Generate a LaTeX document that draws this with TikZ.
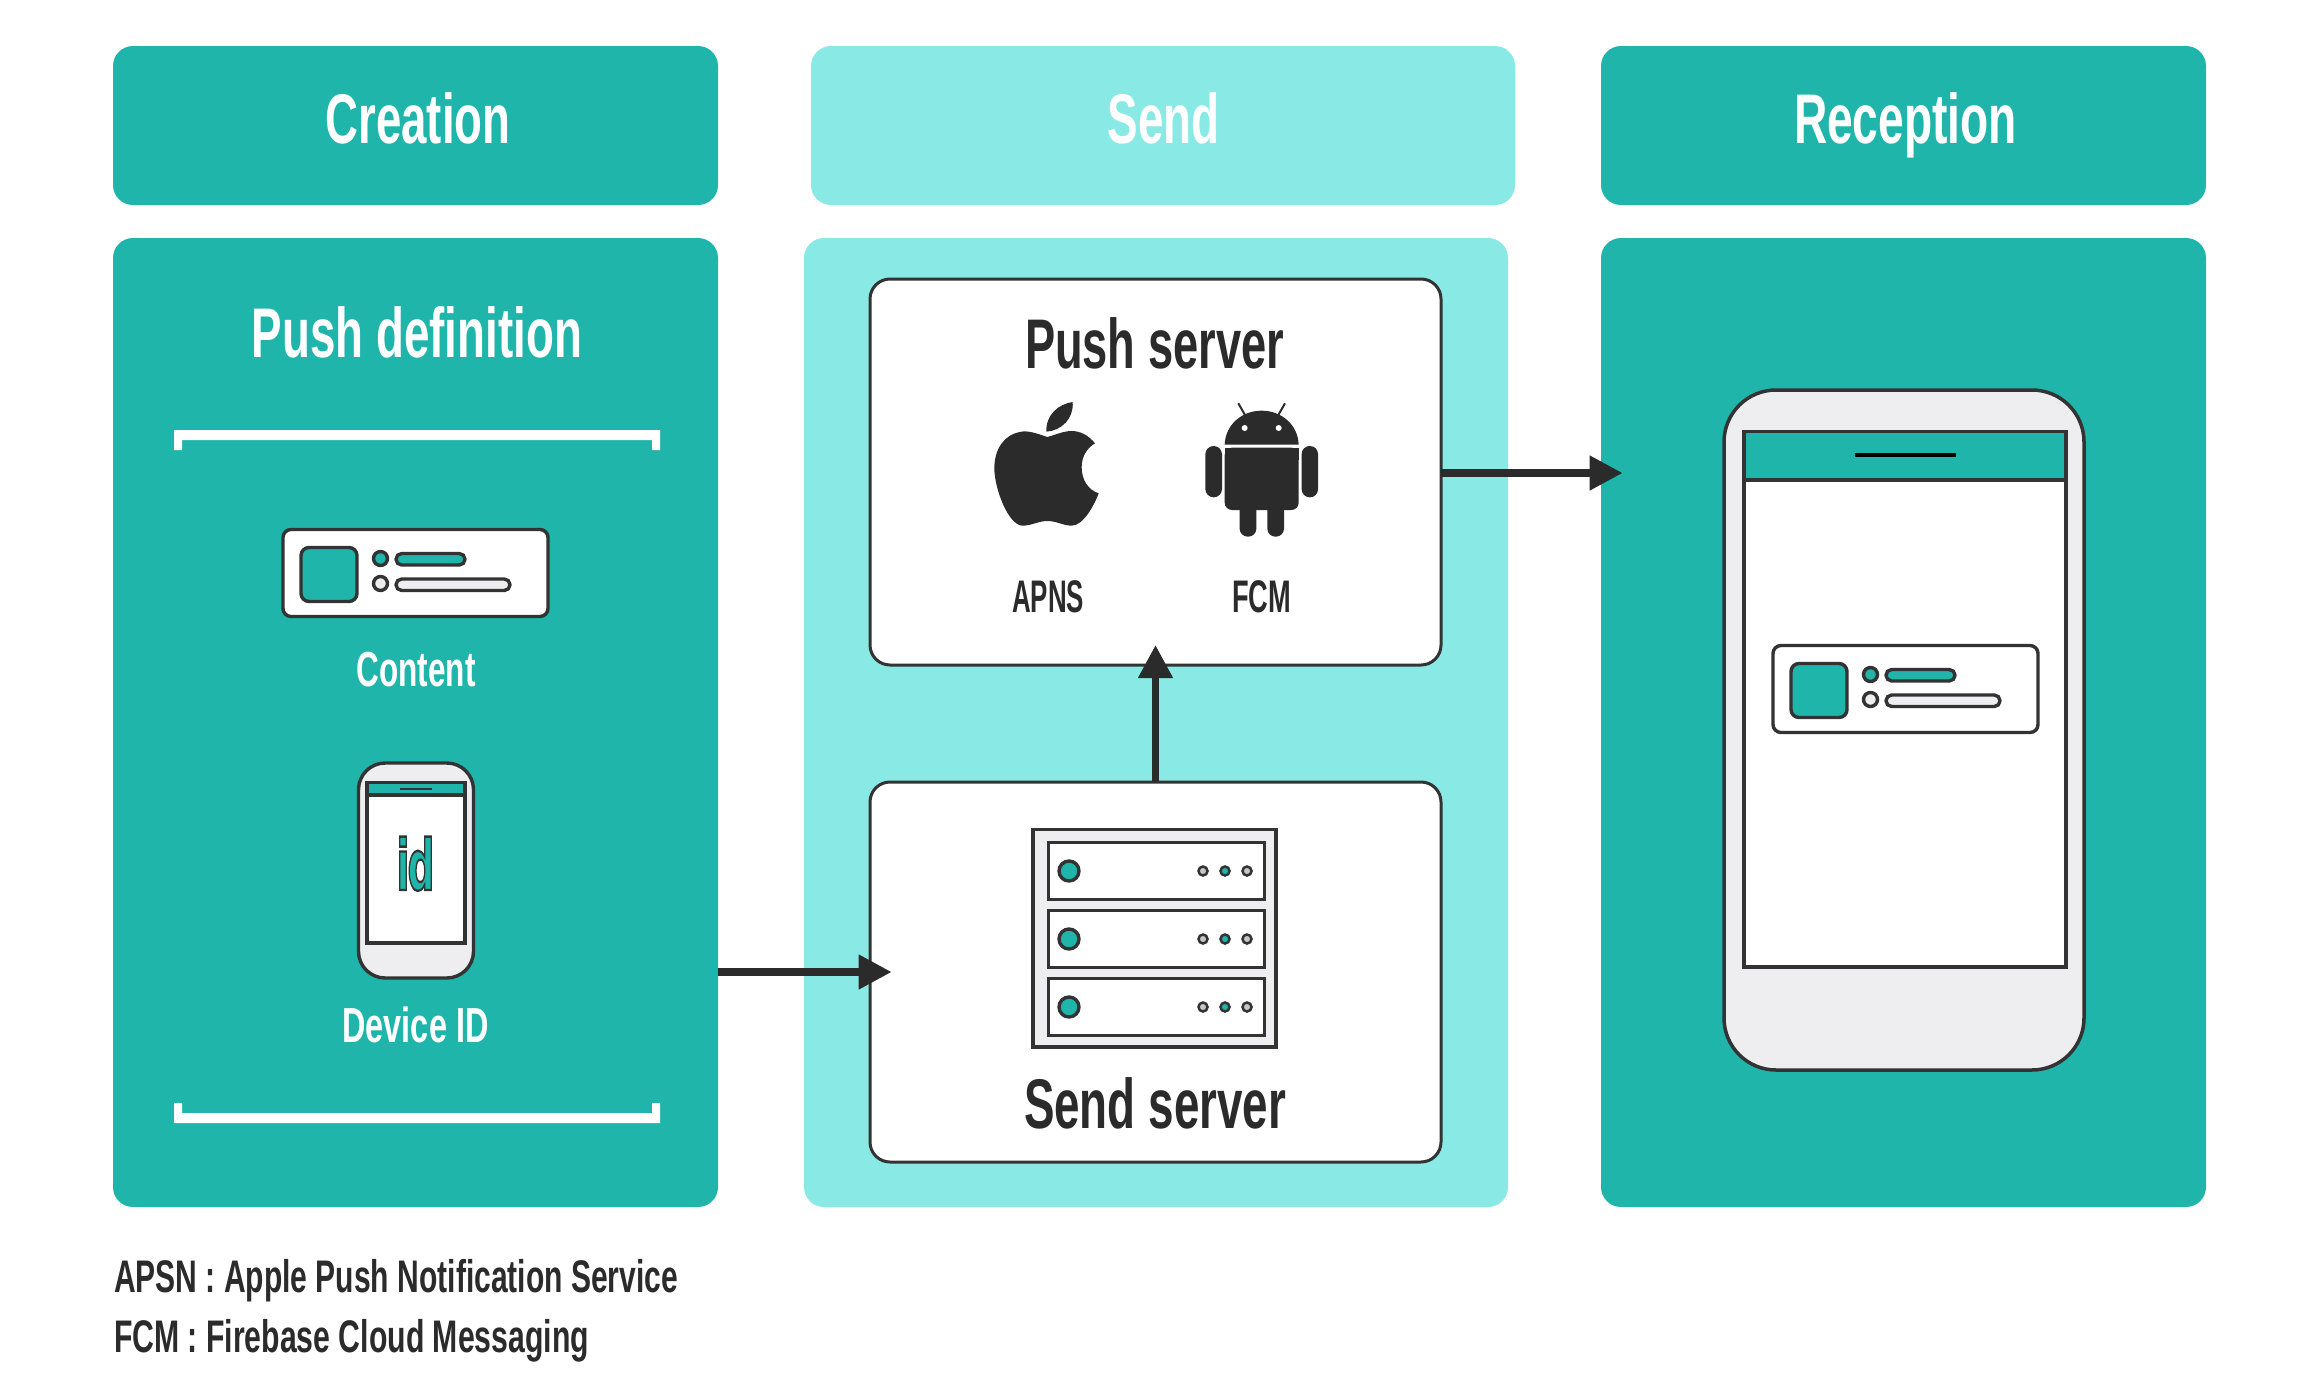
\documentclass[tikz,border=0pt]{standalone}
\usepackage{fontspec}
\usepackage{graphicx}
\usetikzlibrary{arrows.meta}
\setmainfont{Liberation Sans}
\newfontfamily\idfont[BoldFont={DejaVu Sans Bold}]{DejaVu Sans}
\definecolor{teal1}{HTML}{1FB5AB}
\definecolor{light1}{HTML}{89E9E4}
\definecolor{gray1}{HTML}{EEEEF0}
\definecolor{dark1}{HTML}{333333}
\definecolor{ink1}{HTML}{2B2B2B}
\newlength{\upx}\setlength{\upx}{0.03cm}
\tikzset{
  panel/.style={inner sep=0,outer sep=0,rounded corners=0.6cm},
  tealp/.style={panel,fill=teal1},
  lightp/.style={panel,fill=light1},
  whitebox/.style={panel,fill=white,draw=dark1,line width=3\upx},
  arrowline/.style={draw=ink1,line width=7.5\upx,-{Triangle[length=0.99cm,width=0.99cm]},shorten >=-0.6cm},
  arrowlineh/.style={arrowline,shorten >=-0.65cm},
  outl/.style={draw=dark1,line width=3.4\upx},
  rectbox/.style={inner sep=0,outer sep=0,outl},
  lab/.style={inner sep=0,outer sep=0,anchor=base,font=\bfseries},
  labl/.style={lab,anchor=base west},
}
\newcommand{\bx}[6]{\node[#6,minimum width={(#4-#2)*0.03cm},minimum height={(#5-#3)*0.03cm}] (#1) at ({(#2+#4)/2},{(#3+#5)/2}) {};}
\newcommand{\fitw}[3]{\resizebox{#1\upx}{\height}{\fontsize{#2}{#2}\selectfont #3}}
\newcommand{\notifcard}[2]{%
  \begin{scope}[shift={(#1,#2)}]
    \draw[outl,fill=white,rounded corners=0.24cm] (283,529.5) rectangle (548,616.5);
    \draw[outl,fill=teal1,rounded corners=0.24cm] (301,547.5) rectangle (357,601.5);
    \draw[outl,fill=teal1] (380.5,558.5) circle (7);
    \draw[outl,fill=gray1] (380.5,583.5) circle (7);
    \draw[outl,fill=teal1,rounded corners=0.17cm] (396,553.5) rectangle (465,565);
    \draw[outl,fill=gray1,rounded corners=0.17cm] (396,579) rectangle (510,590.5);
  \end{scope}}
\newcommand{\serverunit}[2]{%
  \draw[line width=3\upx,draw=dark1,fill=white] (1048,#1) rectangle (1264,#1+57);
  \draw[outl,fill=teal1] (1069,#2) circle (10);
  \draw[line width=2.5\upx,draw=dark1,fill=gray!45] (1203,#2) circle (4.5);
  \draw[line width=2.5\upx,draw=dark1,fill=teal1] (1225,#2) circle (4.5);
  \draw[line width=2.5\upx,draw=dark1,fill=gray!45] (1247,#2) circle (4.5);}
\begin{document}
\begin{tikzpicture}[x=0.03cm,y=-0.03cm]
\useasboundingbox (0,0) rectangle (2317,1400);
\fill[white] (0,0) rectangle (2317,1400);
% headers
\bx{hcreate}{113}{46}{718}{205}{tealp}
\bx{hsend}{811}{46}{1515}{205}{lightp}
\bx{hrecv}{1601}{46}{2206}{205}{tealp}
% panels
\bx{pcreate}{113}{238}{718}{1207}{tealp}
\bx{psend}{804}{238}{1508}{1207}{lightp}
\bx{precv}{1601}{238}{2206}{1207}{tealp}
% header labels
\node[lab,text=white] (tcreate) at (418,143) {\fitw{185}{60pt}{Creation}};
\node[lab,text=white] (tsend) at (1163.5,143) {\fitw{112}{60pt}{Send}};
\node[lab,text=white] (trecv) at (1905.5,143) {\fitw{223}{60pt}{Reception}};
\node[lab,text=white] (tpush) at (417,357) {\fitw{330}{60pt}{Push definition}};
% brackets
\fill[white] (174,430) -- (660,430) -- (660,450) -- (652,450) -- (652,440) -- (182,440) -- (182,450) -- (174,450) -- cycle;
\fill[white] (174,1123) -- (660,1123) -- (660,1103) -- (652,1103) -- (652,1113) -- (182,1113) -- (182,1103) -- (174,1103) -- cycle;
% content card
\notifcard{0}{0}
\node[lab,text=white] (tcontent) at (416,686) {\fitw{119}{42pt}{Content}};
% small phone
\draw[outl,fill=gray1,rounded corners=0.8cm] (358.5,763) rectangle (473.5,978);
\draw[outl,fill=white] (367,782.5) rectangle (465,943);
\draw[outl,fill=teal1] (367,782.5) rectangle (465,795);
\draw[draw=dark1,line width=1.5\upx] (400,789) -- (432,789);
\node[lab,text=teal1] (tid) at (415.5,890) {\special{pdf:literal direct 2 Tr 2 w 0.2 0.2 0.2 RG}\fitw{38}{60pt}{\idfont i\kern-0.05em d}\special{pdf:literal direct 0 Tr}};
\node[lab,text=white] (tdevice) at (415.5,1042) {\fitw{146}{42pt}{Device ID}};
% push server
\bx{pushsrv}{870}{279}{1441}{665}{whitebox}
\node[lab,text=ink1] (tpushsrv) at (1154.5,368) {\fitw{259}{60pt}{Push server}};
% apple
\begin{scope}[shift={(940,380)},xscale=1/3,yscale=1/3]
  \fill[ink1] (322,171) .. controls (290,160) and (262,150) .. (240,156) .. controls (190,165) and (163,210) .. (163,265) .. controls (163,325) and (205,437) .. (248,437) .. controls (275,437) and (295,423) .. (322,423) .. controls (350,423) and (370,437) .. (395,437) .. controls (430,437) and (463,375) .. (476,340) .. controls (445,330) and (425,300) .. (425,262) .. controls (425,230) and (440,205) .. (465,190) .. controls (445,165) and (420,153) .. (395,153) .. controls (370,153) and (345,165) .. (322,171) -- cycle;
  \fill[ink1] (319,155) .. controls (317,105) and (355,72) .. (398,66) .. controls (402,115) and (365,152) .. (319,155) -- cycle;
\end{scope}
% android
\begin{scope}[shift={(940,380)},xscale=1/3,yscale=1/3]
  \draw[ink1,line width=2\upx] (895,70) -- (915,105);
  \draw[ink1,line width=2\upx] (1035,70) -- (1015,105);
  \fill[ink1] (854,194) .. controls (856,135) and (905,92) .. (965,92) .. controls (1025,92) and (1074,135) .. (1076,194) -- cycle;
  \fill[white] (914,144) circle (9);
  \fill[white] (1016,144) circle (9);
  \fill[ink1,rounded corners=0.22cm] (854,203) -- (1076,203) -- (1076,390) -- (854,390) -- cycle;
  \fill[ink1] (854,203) rectangle (1076,240);
  \fill[ink1,rounded corners=0.25cm] (796,198) rectangle (846,352);
  \fill[ink1,rounded corners=0.24cm] (1085,198) rectangle (1134,352);
  \fill[ink1,rounded corners=0.24cm] (899,340) rectangle (949,470);
  \fill[ink1,rounded corners=0.24cm] (982,340) rectangle (1032,470);
\end{scope}
\node[lab,text=ink1] (tapns) at (1048,612) {\fitw{72}{39pt}{APNS}};
\node[lab,text=ink1] (tfcm) at (1261.5,612) {\fitw{59}{39pt}{FCM}};
% send server
\bx{sendsrv}{870}{782}{1441}{1162}{whitebox}
\draw[outl,fill=gray1] (1033,829.5) rectangle (1276,1047);
\serverunit{842.5}{871}
\serverunit{910.5}{939}
\serverunit{978.5}{1007}
\node[lab,text=ink1] (tsendsrv) at (1155,1128) {\fitw{262}{60pt}{Send server}};
% big phone
\bx{bigphone}{1724}{390}{2084}{1070}{rectbox,rounded corners=1.56cm,fill=gray1,line width=3.5\upx}
\draw[outl,fill=white] (1744,431.5) rectangle (2066,967);
\draw[outl,fill=teal1] (1744,431.5) rectangle (2066,480);
\draw[black,line width=4\upx] (1855,455) -- (1956,455);
\notifcard{1490}{116}
% connectors
\coordinate (ya) at (0,972);
\coordinate (yb) at (0,473);
\draw[arrowlineh] (pcreate.east |- ya) -- (sendsrv.west |- ya);
\draw[arrowlineh] (pushsrv.east |- yb) -- (precv.west |- yb);
\draw[arrowline] (sendsrv.north) -- (pushsrv.south);
% footer
\node[labl,text=ink1] (foot1) at (114,1292) {\fitw{564}{39pt}{APSN : Apple Push Notification Service}};
\node[labl,text=ink1] (foot2) at (114,1352) {\fitw{475}{39pt}{FCM : Firebase Cloud Messaging}};
\end{tikzpicture}
\end{document}
